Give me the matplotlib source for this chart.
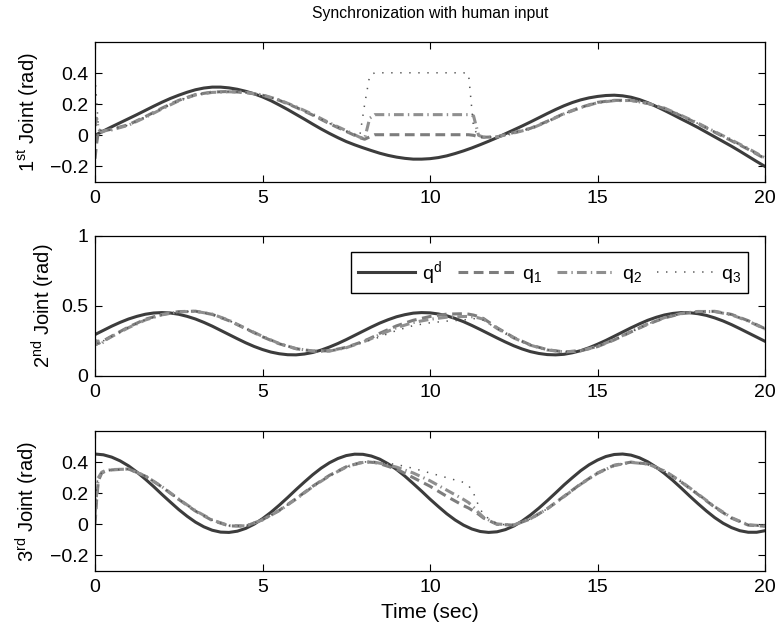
import numpy as np
import matplotlib
matplotlib.use("Agg")
import matplotlib.pyplot as plt

plt.rcParams.update({
    "font.family": ["Liberation Sans", "DejaVu Sans"],
    "mathtext.fontset": "custom",
    "mathtext.rm": "Liberation Sans",
    "mathtext.it": "Liberation Sans:italic",
    "mathtext.bf": "Liberation Sans:bold",
    "lines.scale_dashes": False,
    "axes.linewidth": 0.9,
})

# time grids (sec)
T_D = np.linspace(0, 20, 81)
T_Q = [0, 0.05, 0.1, 0.2, 0.3,
       0.5, 1, 1.5, 2, 2.5, 3, 3.5, 4, 4.5, 5, 5.5, 6, 6.5, 7, 7.5,
       7.9, 8.05, 8.2, 8.35,
       8.5, 9, 9.5, 10, 10.5, 11,
       11.15, 11.3, 11.45, 11.6,
       12, 12.5, 13, 13.5, 14, 14.5, 15, 15.5, 16, 16.5, 17, 17.5, 18, 18.5, 19, 19.5, 20]

# ---- joint 1 ----
QD_J1 = [0.0, 0.028, 0.055, 0.081, 0.107, 0.133, 0.16, 0.187,
         0.213, 0.237, 0.258, 0.277, 0.293, 0.304, 0.31, 0.31,
         0.305, 0.296, 0.283, 0.267, 0.247, 0.223, 0.195, 0.166,
         0.135, 0.104, 0.072, 0.041, 0.012, -0.015, -0.04, -0.061,
         -0.08, -0.098, -0.115, -0.129, -0.14, -0.148, -0.153, -0.153,
         -0.15, -0.143, -0.132, -0.117, -0.1, -0.081, -0.06, -0.038,
         -0.015, 0.01, 0.035, 0.06, 0.086, 0.113, 0.14, 0.166,
         0.19, 0.211, 0.228, 0.241, 0.25, 0.256, 0.258, 0.254,
         0.245, 0.23, 0.21, 0.186, 0.16, 0.133, 0.105, 0.078,
         0.05, 0.02, -0.01, -0.04, -0.07, -0.102, -0.135, -0.168,
         -0.2]
Q1_J1 = [-0.15, -0.05, 0.02, 0.025, 0.03,
         0.04, 0.068, 0.12, 0.175, 0.225, 0.262, 0.278, 0.282, 0.275, 0.258, 0.225, 0.18, 0.13, 0.075, 0.025,
         -0.015, -0.025, -0.01, 0.004,
         0.004, 0.004, 0.004, 0.004, 0.004, 0.004,
         0.004, 0.0, -0.01, -0.012,
         -0.01, 0.018, 0.045, 0.09, 0.14, 0.18, 0.212, 0.225, 0.225, 0.205, 0.172, 0.125, 0.075, 0.02, -0.035, -0.09, -0.15]
Q2_J1 = [0.06, 0.11, 0.04, 0.02, 0.03,
         0.035, 0.065, 0.115, 0.17, 0.222, 0.26, 0.276, 0.28, 0.276, 0.26, 0.228, 0.184, 0.135, 0.08, 0.03,
         -0.012, -0.02, 0.11, 0.133,
         0.133, 0.133, 0.133, 0.133, 0.133, 0.133,
         0.133, 0.125, 0.0, -0.012,
         -0.01, 0.015, 0.042, 0.088, 0.138, 0.178, 0.21, 0.223, 0.224, 0.206, 0.175, 0.128, 0.078, 0.024, -0.03, -0.085, -0.145]
Q3_J1 = [0.38, 0.22, 0.06, 0.025, 0.028,
         0.038, 0.066, 0.118, 0.172, 0.224, 0.261, 0.277, 0.281, 0.276, 0.259, 0.226, 0.182, 0.132, 0.077, 0.027,
         -0.01, 0.2, 0.385, 0.402,
         0.402, 0.402, 0.402, 0.402, 0.402, 0.402,
         0.395, 0.05, -0.01, -0.012,
         -0.01, 0.017, 0.044, 0.089, 0.139, 0.179, 0.211, 0.224, 0.225, 0.205, 0.173, 0.126, 0.076, 0.022, -0.032, -0.088, -0.148]

# ---- joint 2 ----
QD_J2 = [0.296, 0.326, 0.356, 0.383, 0.407, 0.426, 0.441, 0.450,
         0.453, 0.450, 0.441, 0.426, 0.407, 0.383, 0.356, 0.326,
         0.296, 0.266, 0.237, 0.211, 0.189, 0.171, 0.159, 0.152,
         0.151, 0.157, 0.168, 0.185, 0.207, 0.232, 0.260, 0.290,
         0.320, 0.350, 0.378, 0.402, 0.423, 0.438, 0.449, 0.453,
         0.451, 0.443, 0.430, 0.411, 0.388, 0.361, 0.332, 0.302,
         0.272, 0.243, 0.216, 0.193, 0.174, 0.161, 0.153, 0.151,
         0.155, 0.166, 0.181, 0.202, 0.227, 0.254, 0.284, 0.314,
         0.344, 0.372, 0.398, 0.419, 0.436, 0.447, 0.453, 0.452,
         0.445, 0.433, 0.415, 0.393, 0.367, 0.338, 0.308, 0.278,
         0.248]
Q1_J2 = [0.22, 0.25, 0.232, 0.245, 0.258,
         0.285, 0.35, 0.405, 0.44, 0.46, 0.463, 0.44, 0.395, 0.338, 0.28, 0.23, 0.195, 0.178, 0.18, 0.205,
         0.238, 0.252, 0.268, 0.285,
         0.305, 0.358, 0.398, 0.425, 0.442, 0.445,
         0.442, 0.435, 0.425, 0.41,
         0.345, 0.275, 0.222, 0.188, 0.172, 0.18, 0.21, 0.258, 0.315, 0.37, 0.415, 0.445, 0.46, 0.462, 0.44, 0.395, 0.338]
Q2_J2 = [0.26, 0.225, 0.25, 0.232, 0.255,
         0.282, 0.345, 0.4, 0.437, 0.458, 0.462, 0.442, 0.398, 0.34, 0.283, 0.232, 0.196, 0.178, 0.178, 0.202,
         0.235, 0.248, 0.262, 0.278,
         0.295, 0.345, 0.382, 0.405, 0.42, 0.425,
         0.425, 0.422, 0.415, 0.405,
         0.34, 0.272, 0.22, 0.186, 0.172, 0.18, 0.212, 0.26, 0.318, 0.372, 0.417, 0.447, 0.461, 0.46, 0.437, 0.392, 0.335]
Q3_J2 = [0.24, 0.27, 0.22, 0.24, 0.26,
         0.283, 0.347, 0.402, 0.438, 0.459, 0.462, 0.441, 0.396, 0.339, 0.282, 0.231, 0.196, 0.178, 0.179, 0.203,
         0.236, 0.245, 0.255, 0.265,
         0.28, 0.325, 0.36, 0.38, 0.392, 0.4,
         0.405, 0.41, 0.405, 0.398,
         0.338, 0.272, 0.221, 0.187, 0.172, 0.18, 0.211, 0.259, 0.316, 0.371, 0.416, 0.446, 0.46, 0.461, 0.439, 0.394, 0.337]

# ---- joint 3 ----
QD_J3 = [0.452, 0.447, 0.432, 0.408, 0.376, 0.336, 0.291, 0.243,
         0.192, 0.143, 0.095, 0.052, 0.014, -0.016, -0.038, -0.050,
         -0.052, -0.044, -0.026, 0.001, 0.036, 0.077, 0.123, 0.172,
         0.223, 0.272, 0.319, 0.361, 0.396, 0.423, 0.442, 0.451,
         0.450, 0.439, 0.419, 0.389, 0.353, 0.310, 0.262, 0.213,
         0.162, 0.114, 0.068, 0.028, -0.005, -0.030, -0.046, -0.052,
         -0.048, -0.034, -0.011, 0.021, 0.060, 0.104, 0.152, 0.202,
         0.253, 0.300, 0.345, 0.383, 0.413, 0.436, 0.449, 0.452,
         0.445, 0.428, 0.402, 0.368, 0.327, 0.282, 0.233, 0.182,
         0.133, 0.086, 0.043, 0.007, -0.021, -0.041, -0.051, -0.051,
         -0.041]
Q1_J3 = [0.0, 0.16, 0.28, 0.33, 0.34,
         0.35, 0.356, 0.31, 0.24, 0.16, 0.085, 0.025, -0.01, -0.012, 0.03, 0.09, 0.165, 0.245, 0.315, 0.37,
         0.395, 0.4, 0.4, 0.397,
         0.39, 0.355, 0.30, 0.245, 0.18, 0.12,
         0.105, 0.085, 0.065, 0.04,
         0.0, -0.005, 0.035, 0.1, 0.18, 0.26, 0.33, 0.38, 0.4, 0.388, 0.342, 0.272, 0.192, 0.11, 0.04, -0.005, -0.012]
Q2_J3 = [0.05, 0.2, 0.3, 0.335, 0.345,
         0.352, 0.355, 0.312, 0.242, 0.162, 0.088, 0.028, -0.008, -0.01, 0.028, 0.088, 0.162, 0.242, 0.312, 0.368,
         0.394, 0.4, 0.401, 0.399,
         0.393, 0.368, 0.33, 0.28, 0.22, 0.16,
         0.14, 0.11, 0.075, 0.045,
         0.002, -0.004, 0.036, 0.1, 0.178, 0.258, 0.328, 0.378, 0.398, 0.388, 0.344, 0.275, 0.195, 0.113, 0.043, -0.003, -0.01]
Q3_J3 = [0.1, 0.25, 0.31, 0.33, 0.34,
         0.35, 0.355, 0.311, 0.241, 0.161, 0.086, 0.026, -0.009, -0.011, 0.029, 0.089, 0.163, 0.243, 0.313, 0.369,
         0.395, 0.401, 0.402, 0.401,
         0.398, 0.385, 0.36, 0.33, 0.30, 0.27,
         0.25, 0.2, 0.12, 0.06,
         0.001, -0.005, 0.035, 0.1, 0.179, 0.259, 0.329, 0.379, 0.399, 0.387, 0.343, 0.273, 0.193, 0.111, 0.041, -0.004, -0.011]

YLABELS = [r"1$^{\mathrm{st}}$ Joint (rad)", r"2$^{\mathrm{nd}}$ Joint (rad)", r"3$^{\mathrm{rd}}$ Joint (rad)"]
YLIMS = [(-0.3, 0.6), (0, 1), (-0.3, 0.6)]
YTICKS = [[-0.2, 0, 0.2, 0.4], [0, 0.5, 1], [-0.2, 0, 0.2, 0.4]]
YTICKLABELS = [["\u22120.2", "0", "0.2", "0.4"], ["0", "0.5", "1"], ["\u22120.2", "0", "0.2", "0.4"]]
XTICKS = [0, 5, 10, 15, 20]
LABELS = [r"$\mathrm{q}^{\mathrm{d}}$", r"$\mathrm{q}_{1}$", r"$\mathrm{q}_{2}$", r"$\mathrm{q}_{3}$"]

STYLES = [
    dict(color="#3c3c3c", lw=2.2, ls="-"),
    dict(color="#7d7d7d", lw=2.2, ls=(0, (7, 4))),
    dict(color="#8f8f8f", lw=2.2, ls=(0, (7, 3, 1, 3))),
    dict(color="#555555", lw=1.1, ls=(0, (1, 5.5))),
]

# axes boxes in pixels (top, bottom), shared left/right
LEFT, RIGHT = 95, 765
ROWS = [(42, 182), (236, 376), (431, 571)]
YLABEL_X = [-0.081, -0.0567, -0.081]
W, H = 781, 628


def main():
    fig = plt.figure(figsize=(W / 100, H / 100), dpi=100)
    data = [
        (QD_J1, Q1_J1, Q2_J1, Q3_J1),
        (QD_J2, Q1_J2, Q2_J2, Q3_J2),
        (QD_J3, Q1_J3, Q2_J3, Q3_J3),
    ]
    axes = []
    for i, (top, bot) in enumerate(ROWS):
        ax = fig.add_axes([LEFT / W, 1 - bot / H, (RIGHT - LEFT) / W, (bot - top) / H])
        qd, q1, q2, q3 = data[i]
        ax.plot(T_D, qd, label=LABELS[0], **STYLES[0])
        ax.plot(T_Q, q1, label=LABELS[1], **STYLES[1])
        ax.plot(T_Q, q2, label=LABELS[2], **STYLES[2])
        ax.plot(T_Q, q3, label=LABELS[3], **STYLES[3])
        ax.set_xlim(0, 20)
        ax.set_ylim(*YLIMS[i])
        ax.set_xticks(XTICKS)
        ax.set_xticklabels([str(x) for x in XTICKS])
        ax.set_yticks(YTICKS[i])
        ax.set_yticklabels(YTICKLABELS[i])
        ax.tick_params(direction="in", length=5, width=0.8, top=True, right=True, labelsize=14)
        ax.tick_params(axis="x", pad=6)
        ax.tick_params(axis="y", pad=5)
        ax.set_ylabel(YLABELS[i], fontsize=14.5)
        ax.yaxis.set_label_coords(YLABEL_X[i], 0.5)
        axes.append(ax)

    leg = axes[1].legend(ncol=4, loc="upper right", bbox_to_anchor=(0.9746, 0.886),
                         borderaxespad=0, fontsize=14, handlelength=2.9, handletextpad=0.4,
                         columnspacing=0.8, borderpad=0.35, fancybox=False,
                         edgecolor="black", framealpha=1)
    leg.get_frame().set_linewidth(1.0)

    axes[2].set_xlabel("Time (sec)", fontsize=15)
    axes[2].xaxis.set_label_coords(0.5, -0.229)

    fig.text((LEFT + RIGHT) / 2 / W, 1 - 18 / H, "Synchronization with human input",
             ha="center", va="baseline", fontsize=11.3)

    fig.savefig("out.png", dpi=100)
    plt.close(fig)


if __name__ == "__main__":
    main()
